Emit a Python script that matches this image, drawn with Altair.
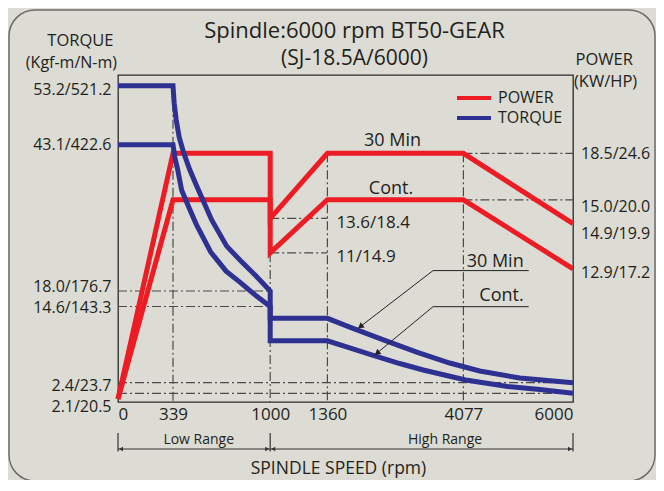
import altair as alt
import pandas as pd

# ---------------- data ----------------
RPM_TICKS = [0, 339, 1000, 1360, 4077, 6000]

POWER_30_RPM = [0, 339, 1000, 1000, 1360, 4077, 6000]
POWER_30_KW = [0, 18.5, 18.5, 13.6, 18.5, 18.5, 13.2]
POWER_CONT_RPM = [0, 339, 1000, 1000, 1360, 4077, 6000]
POWER_CONT_KW = [0, 15.0, 15.0, 11.0, 15.0, 15.0, 9.8]

TORQUE_30_RPM = [0, 339, 347, 361, 381, 412, 453, 500, 602, 704, 806, 902, 1000, 1000,
                 1360, 1806, 2465, 3144, 3804, 4363, 5065, 6000]
TORQUE_30_KGF = [53.2, 53.2, 50.2, 47.3, 44.4, 41.7, 38.8, 36.0, 30.2, 25.7, 23.0, 20.6, 18.0, 12.7,
                 12.7, 11.3, 9.3, 7.3, 5.55, 4.27, 3.15, 2.4]
TORQUE_CONT_RPM = [0, 339, 351, 371, 398, 446, 500, 595, 700, 800, 902, 1000, 1000,
                   1360, 1806, 2259, 2805, 3274, 4117, 4854, 5416, 6000]
TORQUE_CONT_KGF = [43.1, 43.1, 41.0, 38.8, 35.3, 32.4, 29.3, 24.7, 21.4, 19.4, 17.0, 14.6, 9.1,
                   9.1, 7.96, 6.83, 5.47, 4.43, 2.83, 2.29, 2.21, 2.1]

TORQUE_TICK_VALUES = [53.2, 43.1, 18.0, 14.6, 2.4, 2.1]
TORQUE_TICK_TEXT = ["53.2/521.2", "43.1/422.6", "18.0/176.7", "14.6/143.3", "2.4/23.7", "2.1/20.5"]

POWER_TICK_AT = [18.5, 15.0, 13.2, 9.8]
POWER_TICK_TEXT = ["18.5/24.6", "15.0/20.0", "14.9/19.9", "12.9/17.2"]

TQ_REF_VAL = [18.0, 14.6, 2.4, 2.1]
TQ_REF_FROM = [0, 0, 0, 0]
TQ_REF_TO = [1000, 1000, 6000, 6000]
PW_REF_VAL = [18.5, 15.0, 13.6, 11.0]
PW_REF_FROM = [4077, 4077, 1000, 1000]
PW_REF_TO = [6000, 6000, 1360, 1360]
V_REF_TQ_RPM = [339]
V_REF_TQ_TOP = [53.2]
V_REF_PW_RPM = [1000, 1360, 4077]
V_REF_PW_TOP = [11.0, 18.5, 18.5]

POWER_NOTE_TEXT = ["30 Min", "Cont."]
POWER_NOTE_RPM = [2661, 2631]
POWER_NOTE_KW = [19.4, 15.8]
DROP_NOTE_TEXT = ["13.6/18.4", "11/14.9"]
DROP_NOTE_KW = [13.6, 11.0]

LEADER_TEXT = ["30 Min", "Cont."]
LEADER_30_RPM = [1971, 3470, 5223]
LEADER_30_KGF = [11.1, 21.5, 21.5]
LEADER_CONT_RPM = [2305, 3470, 5223]
LEADER_CONT_KGF = [6.83, 14.57, 14.57]

RANGE_NAMES = ["Low Range", "High Range"]
RANGE_FROM = [0, 1000]
RANGE_TO = [1000, 6000]
RANGE_LABEL_RPM = [514, 3710]
RANGE_TICKS = [0, 1000, 6000]

SERIES = ["POWER", "TORQUE"]
TITLE = "Spindle:6000 rpm BT50-GEAR"
SUBTITLE = "(SJ-18.5A/6000)"

# ---------------- styles ----------------
FONT = "Open Sans"
INK = "#231f20"
RED = "#ed1c24"
BLUE = "#2e3192"
BG = "#dcdbd4"
DASH_COLOR = "#4a4a4a"
DASH = [9, 3, 2, 3]
W, H = 455, 327

XSCALE = alt.Scale(domain=RPM_TICKS, range=[0, 55, 152.2, 209.4, 345.4, 455], nice=False, zero=False)
TSCALE = alt.Scale(domain=[2.1, 2.4, 14.6, 18.0, 43.1, 53.2],
                   range=[318.3, 307.7, 231.5, 216, 69.7, 10.7], nice=False, zero=False)
PSCALE = alt.Scale(domain=[0, 18.5], range=[324, 78.3], nice=False, zero=False)
COLOR_SCALE = alt.Scale(domain=SERIES, range=[RED, BLUE])

XAXIS = alt.Axis(values=RPM_TICKS, labelFlush=True, domain=False, ticks=False, grid=False,
                 format="d", labelFont=FONT, labelFontSize=17, labelColor=INK, labelPadding=4,
                 title="SPINDLE SPEED (rpm)", titleFont=FONT, titleFontSize=17.5,
                 titleFontWeight="normal", titleColor=INK, titleY=66, titleX=220,
                 titleBaseline="middle")

LEGEND = alt.Legend(title=None, orient="none", legendX=348, legendY=15, padding=0,
                    symbolType="M-3.4,0H3.4", symbolSize=100, symbolStrokeWidth=4,
                    labelOffset=16, labelFont=FONT, labelFontSize=16, labelColor=INK,
                    rowPadding=4)


def X(field):
    return alt.X(f"{field}:Q", scale=XSCALE, axis=XAXIS)


def YT(field):
    return alt.Y(f"{field}:Q", scale=TSCALE, axis=None)


def YP(field):
    return alt.Y(f"{field}:Q", scale=PSCALE, axis=None)


def series_df(rpm, val, duty, kind):
    return pd.DataFrame({"rpm": rpm, "v": val, "duty": duty, "type": kind, "i": range(len(rpm))})


def label(text, x, y, align, size, baseline="alphabetic"):
    return alt.Chart(pd.DataFrame({"t": [text]})).mark_text(
        align=align, baseline=baseline, font=FONT, fontSize=size, color=INK
    ).encode(x=alt.value(x), y=alt.value(y), text="t:N")


power_df = pd.concat([series_df(POWER_30_RPM, POWER_30_KW, "30 Min", "POWER"),
                      series_df(POWER_CONT_RPM, POWER_CONT_KW, "Cont.", "POWER")])
torque_df = pd.concat([series_df(TORQUE_30_RPM, TORQUE_30_KGF, "30 Min", "TORQUE"),
                       series_df(TORQUE_CONT_RPM, TORQUE_CONT_KGF, "Cont.", "TORQUE")])

layers = []

# outer rounded frame
layers.append(
    alt.Chart(pd.DataFrame({"a": [0]})).mark_rect(
        fillOpacity=0, stroke="#6b6b6b", strokeWidth=1.5, cornerRadius=26
    ).encode(x=alt.value(-109), x2=alt.value(537), y=alt.value(-65), y2=alt.value(406))
)

# dash-dot reference lines
layers.append(
    alt.Chart(pd.DataFrame({"v": TQ_REF_VAL, "f": TQ_REF_FROM, "t": TQ_REF_TO})).mark_rule(
        color=DASH_COLOR, strokeWidth=1.2, strokeDash=DASH
    ).encode(x=X("f"), x2="t:Q", y=YT("v"))
)
layers.append(
    alt.Chart(pd.DataFrame({"v": PW_REF_VAL, "f": PW_REF_FROM, "t": PW_REF_TO})).mark_rule(
        color=DASH_COLOR, strokeWidth=1.2, strokeDash=DASH
    ).encode(x=X("f"), x2="t:Q", y=YP("v"))
)
layers.append(
    alt.Chart(pd.DataFrame({"r": V_REF_TQ_RPM, "top": V_REF_TQ_TOP})).mark_rule(
        color=DASH_COLOR, strokeWidth=1.2, strokeDash=DASH
    ).encode(x=X("r"), y=YT("top"), y2=alt.value(H))
)
layers.append(
    alt.Chart(pd.DataFrame({"r": V_REF_PW_RPM, "top": V_REF_PW_TOP})).mark_rule(
        color=DASH_COLOR, strokeWidth=1.2, strokeDash=DASH
    ).encode(x=X("r"), y=YP("top"), y2=alt.value(H))
)

# power and torque curves
layers.append(
    alt.Chart(power_df).mark_line(strokeWidth=5, strokeJoin="miter", strokeCap="butt").encode(
        x=X("rpm"), y=YP("v"),
        color=alt.Color("type:N", scale=COLOR_SCALE, legend=LEGEND),
        detail="duty:N", order="i:Q")
)
layers.append(
    alt.Chart(torque_df).mark_line(strokeWidth=5, strokeJoin="miter", strokeCap="butt").encode(
        x=X("rpm"), y=YT("v"),
        color=alt.Color("type:N", scale=COLOR_SCALE, legend=LEGEND),
        detail="duty:N", order="i:Q")
)

# left axis labels (torque)
LEFT_DY = [4, 0, -4, 1, 3, 14]
for val, txt, dy in zip(TORQUE_TICK_VALUES, TORQUE_TICK_TEXT, LEFT_DY):
    layers.append(
        alt.Chart(pd.DataFrame({"v": [val], "t": [txt]})).mark_text(
            align="right", baseline="middle", dx=-6.5, dy=dy, font=FONT, fontSize=16, color=INK
        ).encode(x=alt.value(0), y=YT("v"), text="t:N")
    )

# right axis labels (power)
RIGHT_DY = [1, 7, 10.5, 4.5]
for val, txt, dy in zip(POWER_TICK_AT, POWER_TICK_TEXT, RIGHT_DY):
    layers.append(
        alt.Chart(pd.DataFrame({"v": [val], "t": [txt]})).mark_text(
            align="left", baseline="middle", dx=8, dy=dy, font=FONT, fontSize=16, color=INK
        ).encode(x=alt.value(W), y=YP("v"), text="t:N")
    )

# chart title and axis titles
layers.append(label(TITLE, 236.5, -37.5, "center", 22))
layers.append(label(SUBTITLE, 236.5, -10.5, "center", 21))
layers.append(label("TORQUE", -4.5, -29, "right", 16.5))
layers.append(label("(Kgf-m/N-m)", -1, -7, "right", 16))
layers.append(label("POWER", 457.5, -10, "left", 16.5))
layers.append(label("(KW/HP)", 456, 11.5, "left", 16.5))

# power curve notes
layers.append(alt.Chart(pd.DataFrame({"r": POWER_NOTE_RPM, "v": POWER_NOTE_KW, "t": POWER_NOTE_TEXT})).mark_text(
    align="center", baseline="middle", font=FONT, fontSize=18, color=INK
).encode(x=X("r"), y=YP("v"), text="t:N"))
layers.append(alt.Chart(pd.DataFrame({"r": [1360, 1360], "v": DROP_NOTE_KW, "t": DROP_NOTE_TEXT})).mark_text(
    align="left", baseline="middle", dx=9, dy=4.5, font=FONT, fontSize=17, color=INK
).encode(x=X("r"), y=YP("v"), text="t:N"))

# torque leaders
lead_df = pd.concat([
    pd.DataFrame({"r": LEADER_30_RPM, "v": LEADER_30_KGF, "k": "30", "i": range(3)}),
    pd.DataFrame({"r": LEADER_CONT_RPM, "v": LEADER_CONT_KGF, "k": "c", "i": range(3)}),
])
layers.append(alt.Chart(lead_df).mark_line(color="#222222", strokeWidth=1).encode(
    x=X("r"), y=YT("v"), detail="k:N", order="i:Q"))
layers.append(alt.Chart(pd.DataFrame({"r": [LEADER_30_RPM[0]], "v": [LEADER_30_KGF[0]]})).mark_point(
    shape="triangle-up", angle=232.5, filled=True, size=45, color="#222222", opacity=1,
    xOffset=2.4, yOffset=-1.8).encode(x=X("r"), y=YT("v")))
layers.append(alt.Chart(pd.DataFrame({"r": [LEADER_CONT_RPM[0]], "v": [LEADER_CONT_KGF[0]]})).mark_point(
    shape="triangle-up", angle=230.4, filled=True, size=45, color="#222222", opacity=1,
    xOffset=2.4, yOffset=-1.8).encode(x=X("r"), y=YT("v")))
layers.append(alt.Chart(pd.DataFrame({"r": [LEADER_30_RPM[2]], "v": [LEADER_30_KGF[2]], "t": [LEADER_TEXT[0]]})).mark_text(
    align="right", baseline="alphabetic", dx=-5, dy=-4, font=FONT, fontSize=18, color=INK
).encode(x=X("r"), y=YT("v"), text="t:N"))
layers.append(alt.Chart(pd.DataFrame({"r": [LEADER_CONT_RPM[2]], "v": [LEADER_CONT_KGF[2]], "t": [LEADER_TEXT[1]]})).mark_text(
    align="right", baseline="alphabetic", dx=-5, dy=-6, font=FONT, fontSize=18, color=INK
).encode(x=X("r"), y=YT("v"), text="t:N"))

# speed range annotation below the axis
layers.append(alt.Chart(pd.DataFrame({"f": RANGE_FROM, "t": RANGE_TO})).mark_rule(
    color="#333333", strokeWidth=1.2).encode(x=X("f"), x2="t:Q", y=alt.value(374)))
layers.append(alt.Chart(pd.DataFrame({"r": RANGE_TICKS})).mark_rule(
    color="#333333", strokeWidth=1.2).encode(x=X("r"), y=alt.value(358), y2=alt.value(376.5)))
layers.append(alt.Chart(pd.DataFrame({"r": RANGE_FROM})).mark_point(
    shape="triangle-left", filled=True, size=22, color="#333333", opacity=1, xOffset=3
).encode(x=X("r"), y=alt.value(374)))
layers.append(alt.Chart(pd.DataFrame({"r": RANGE_TO})).mark_point(
    shape="triangle-right", filled=True, size=22, color="#333333", opacity=1, xOffset=-3
).encode(x=X("r"), y=alt.value(374)))
layers.append(alt.Chart(pd.DataFrame({"r": RANGE_LABEL_RPM, "t": RANGE_NAMES})).mark_text(
    align="center", baseline="middle", font=FONT, fontSize=14, color=INK
).encode(x=X("r"), y=alt.value(364.5), text="t:N"))

chart = alt.layer(*layers).properties(
    width=W, height=H,
    padding={"left": 110, "top": 67, "right": 83, "bottom": 78},
    autosize=alt.AutoSizeParams(type="none"),
    background=BG,
).resolve_scale(y="independent").configure_view(stroke="#2b2b2b", strokeWidth=1.3)

chart.save("out.html", embed_options={"renderer": "svg", "actions": False})
